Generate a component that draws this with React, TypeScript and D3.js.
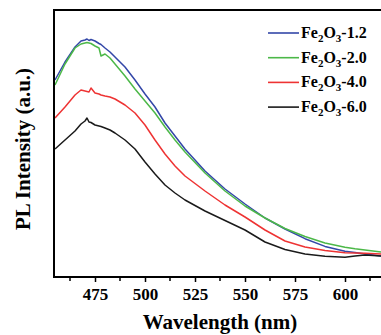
import { useEffect, useRef } from "react";
import * as d3 from "d3";

const wavelengths = [
  455, 460, 465, 468, 470, 471, 472, 473, 475, 477, 478, 480, 482.5, 485, 490,
  495, 500, 505, 510, 515, 520, 530, 540, 550, 560, 570, 580, 590, 600, 605,
  610, 618,
];

const fe12 = [
  1970, 2150, 2300, 2360, 2370, 2380, 2365, 2375, 2360, 2335, 2325, 2290, 2250,
  2200, 2100, 1970, 1830, 1700, 1540, 1410, 1280, 1060, 880, 730, 590, 480, 383,
  306, 257, 245, 230, 210,
];
const fe20 = [
  1920, 2130, 2290, 2330, 2340, 2345, 2340, 2335, 2310, 2290, 2210, 2230, 2190,
  2130, 2010, 1880, 1760, 1640, 1500, 1370, 1250, 1040, 860, 710, 590, 485, 405,
  340, 297, 282, 270, 250,
];
const fe40 = [
  1590, 1700, 1820, 1870, 1860, 1855, 1850, 1890, 1840, 1830, 1820, 1810, 1800,
  1780, 1720, 1640, 1520, 1370, 1230, 1110, 1010, 860, 720, 600, 470, 360, 300,
  265, 242, 240, 237, 230,
];
const fe60 = [
  1280, 1370, 1460, 1530, 1560, 1590, 1550, 1545, 1520, 1510, 1505, 1490, 1470,
  1440, 1370, 1280, 1150, 1030, 920, 840, 770, 660, 565, 470, 350, 275, 230, 207,
  197, 210, 220, 210,
];

const seriesNames = ["1.2", "2.0", "4.0", "6.0"];
const seriesValues = [fe12, fe20, fe40, fe60];
const seriesColors = ["#3347a8", "#4cb848", "#ee3333", "#1a1a1a"];

const majorTicks = [475, 500, 525, 550, 575, 600];
const minorTicks = [462.5, 487.5, 512.5, 537.5, 562.5, 587.5, 612.5];

const Chart = () => {
  const ref = useRef<SVGSVGElement | null>(null);

  useEffect(() => {
    if (!ref.current) return;
    const width = 381;
    const height = 335;
    const margin = { top: 10, right: 0, bottom: 58, left: 54 };
    const font = "'Liberation Serif', 'Times New Roman', serif";

    const svg = d3.select(ref.current);
    svg.selectAll("*").remove();
    svg.attr("width", width).attr("height", height);

    const x = d3
      .scaleLinear()
      .domain([454.5, 618])
      .range([margin.left, width - margin.right]);
    const y = d3
      .scaleLinear()
      .domain([0, 2670])
      .range([height - margin.bottom, margin.top]);

    svg
      .append("clipPath")
      .attr("id", "plot-clip")
      .append("rect")
      .attr("x", margin.left)
      .attr("y", margin.top)
      .attr("width", width - margin.left)
      .attr("height", height - margin.bottom - margin.top);

    const line = d3
      .line<number>()
      .x((_, i) => x(wavelengths[i]))
      .y((d) => y(d))
      .curve(d3.curveLinear);

    svg
      .append("g")
      .attr("clip-path", "url(#plot-clip)")
      .selectAll("path")
      .data(seriesValues)
      .join("path")
      .attr("d", (d) => line(d))
      .attr("fill", "none")
      .attr("stroke", (_, i) => seriesColors[i])
      .attr("stroke-width", 1.5)
      .attr("stroke-linejoin", "round");

    // X axis
    const xAxis = svg
      .append("g")
      .attr("transform", `translate(0,${height - margin.bottom})`)
      .call(
        d3
          .axisBottom(x)
          .tickValues(majorTicks)
          .tickSize(5)
          .tickPadding(6)
          .tickFormat(d3.format("d"))
      );
    xAxis.select(".domain").remove();
    xAxis.selectAll("line").attr("stroke", "#000").attr("stroke-width", 1.5);
    xAxis
      .selectAll("text")
      .attr("fill", "#000")
      .attr("font-family", font)
      .attr("font-size", 17)
      .attr("font-weight", "bold");

    svg
      .append("g")
      .selectAll("line")
      .data(minorTicks)
      .join("line")
      .attr("x1", (d) => x(d))
      .attr("x2", (d) => x(d))
      .attr("y1", height - margin.bottom)
      .attr("y2", height - margin.bottom + 4)
      .attr("stroke", "#000")
      .attr("stroke-width", 1.5);

    // frame (left, top, bottom)
    svg
      .append("path")
      .attr(
        "d",
        `M${width},${margin.top}H${margin.left}V${height - margin.bottom}H${width}`
      )
      .attr("fill", "none")
      .attr("stroke", "#000")
      .attr("stroke-width", 2);

    svg
      .append("text")
      .attr("x", 220)
      .attr("y", 329)
      .attr("text-anchor", "middle")
      .attr("font-family", font)
      .attr("font-size", 21)
      .attr("font-weight", "bold")
      .text("Wavelength (nm)");

    svg
      .append("text")
      .attr("transform", `translate(30,149) rotate(-90)`)
      .attr("text-anchor", "middle")
      .attr("font-family", font)
      .attr("font-size", 21)
      .attr("font-weight", "bold")
      .text("PL Intensity (a.u.)");

    // legend
    const legend = svg
      .append("g")
      .selectAll("g")
      .data(seriesNames)
      .join("g")
      .attr("transform", (_, i) => `translate(268,${33 + i * 24.7})`);

    legend
      .append("line")
      .attr("x1", 0)
      .attr("x2", 31)
      .attr("stroke", (_, i) => seriesColors[i])
      .attr("stroke-width", 1.6);

    const label = legend
      .append("text")
      .attr("x", 33)
      .attr("y", 5)
      .attr("font-family", font)
      .attr("font-size", 16)
      .attr("font-weight", "bold");
    label.append("tspan").text("Fe");
    label.append("tspan").attr("font-size", 11).attr("dy", 4).text("2");
    label.append("tspan").attr("dy", -4).text("O");
    label.append("tspan").attr("font-size", 11).attr("dy", 4).text("3");
    label
      .append("tspan")
      .attr("dy", -4)
      .text((d) => `-${d}`);
  }, []);

  return <svg ref={ref} style={{ position: "absolute", left: 0, top: 0 }}></svg>;
};

export default function App() {
  return <Chart />;
}
